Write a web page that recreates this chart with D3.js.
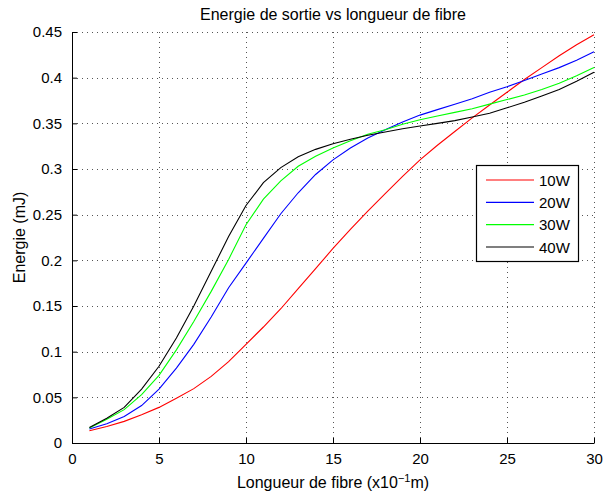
<!DOCTYPE html>
<html>
<head>
<meta charset="utf-8">
<script src="https://cdn.jsdelivr.net/npm/d3@7"></script>
<style>
  body { margin: 0; background: #fff; }
  text { font-family: "Liberation Sans", Arial, sans-serif; }
</style>
</head>
<body>
<svg id="chart" width="603" height="496"></svg>
<script>
const lengths = [1, 2, 3, 4, 5, 6, 7, 8, 9, 10, 11, 12, 13, 14, 15, 16, 17, 18, 19, 20,
                 21, 22, 23, 24, 25, 26, 27, 28, 29, 30]
const e10W = [0.0135, 0.018, 0.0237, 0.031, 0.039, 0.049, 0.0595, 0.073, 0.089, 0.108,
              0.127, 0.147, 0.169, 0.191, 0.213, 0.234, 0.254, 0.273, 0.292, 0.310,
              0.326, 0.341, 0.356, 0.370, 0.384, 0.398, 0.411, 0.424, 0.436, 0.447]
const e20W = [0.0153, 0.021, 0.029, 0.041, 0.059, 0.082, 0.108, 0.138, 0.170, 0.197,
              0.224, 0.251, 0.274, 0.294, 0.310, 0.323, 0.334, 0.343, 0.3515, 0.359,
              0.365, 0.371, 0.377, 0.384, 0.390, 0.397, 0.404, 0.411, 0.419, 0.4285]
const e30W = [0.0164, 0.026, 0.0365, 0.053, 0.074, 0.102, 0.133, 0.166, 0.201, 0.239,
              0.267, 0.287, 0.303, 0.314, 0.323, 0.331, 0.338, 0.343, 0.349, 0.354,
              0.358, 0.362, 0.366, 0.371, 0.376, 0.381, 0.387, 0.394, 0.402, 0.411]
const e40W = [0.017, 0.027, 0.039, 0.059, 0.084, 0.115, 0.150, 0.188, 0.226, 0.260,
              0.285, 0.3015, 0.3135, 0.3215, 0.3277, 0.3325, 0.337, 0.3405, 0.344, 0.347,
              0.350, 0.353, 0.357, 0.361, 0.367, 0.373, 0.380, 0.387, 0.396, 0.406]
const seriesNames = ["10W", "20W", "30W", "40W"]
const seriesColors = ["#ff0000", "#0000ff", "#00ff00", "#000000"]
const xTicks = [0, 5, 10, 15, 20, 25, 30]
const yTicks = [0, 0.05, 0.1, 0.15, 0.2, 0.25, 0.3, 0.35, 0.4, 0.45]
const yTickLabels = ["0", "0.05", "0.1", "0.15", "0.2", "0.25", "0.3", "0.35", "0.4", "0.45"]

const plotLeft = 72, plotRight = 594, plotTop = 32, plotBottom = 443;

const svg = d3.select("#chart");

const x = d3.scaleLinear().domain([0, 30]).range([plotLeft, plotRight]);
const y = d3.scaleLinear().domain([0, 0.45]).range([plotBottom, plotTop]);

// grid
const grid = svg.append("g")
    .attr("stroke", "#555")
    .attr("stroke-width", 1)
    .attr("stroke-dasharray", "1,4")
    .attr("shape-rendering", "crispEdges");
grid.selectAll(".vg")
    .data(xTicks.slice(1))
    .enter()
    .append("line")
    .attr("x1", d => Math.round(x(d)) + 0.5)
    .attr("x2", d => Math.round(x(d)) + 0.5)
    .attr("y1", plotBottom)
    .attr("y2", plotTop);
grid.selectAll(".hg")
    .data(yTicks.slice(1))
    .enter()
    .append("line")
    .attr("y1", d => Math.round(y(d)) + 0.5)
    .attr("y2", d => Math.round(y(d)) + 0.5)
    .attr("x1", plotLeft)
    .attr("x2", plotRight);

// axes, ticks pointing inward
const xAxis = svg.append("g")
    .attr("transform", `translate(0,${plotBottom})`)
    .call(d3.axisBottom(x).tickValues(xTicks).tickSizeInner(-5).tickSizeOuter(0).tickPadding(10));
const yAxis = svg.append("g")
    .attr("transform", `translate(${plotLeft},0)`)
    .call(d3.axisLeft(y).tickValues(yTicks).tickFormat((d, i) => yTickLabels[i])
        .tickSizeInner(-5).tickSizeOuter(0).tickPadding(10));
[xAxis, yAxis].forEach(a => {
    a.selectAll("text").attr("font-size", 15).attr("fill", "#000")
        .style("font-family", "'Liberation Sans', Arial, sans-serif");
    a.selectAll("line, path").attr("stroke", "#000");
});

// curves
const allSeries = [e10W, e20W, e30W, e40W];
const line = d3.line()
    .x((d, i) => x(lengths[i]))
    .y(d => y(d));
svg.append("g")
    .selectAll("path")
    .data(allSeries)
    .enter()
    .append("path")
    .attr("d", d => line(d))
    .attr("fill", "none")
    .attr("stroke", (d, i) => seriesColors[i])
    .attr("stroke-width", 1.1);

// title and labels
svg.append("text")
    .attr("x", (plotLeft + plotRight) / 2)
    .attr("y", 20)
    .attr("text-anchor", "middle")
    .attr("font-size", 16)
    .text("Energie de sortie vs longueur de fibre");

const xl = svg.append("text")
    .attr("x", (plotLeft + plotRight) / 2)
    .attr("y", 488)
    .attr("text-anchor", "middle")
    .attr("font-size", 16);
xl.append("tspan").text("Longueur de fibre (x10");
xl.append("tspan").attr("dy", -6).attr("font-size", 11).text("−1");
xl.append("tspan").attr("dy", 6).text("m)");

svg.append("text")
    .attr("transform", `translate(25,${(plotTop + plotBottom) / 2}) rotate(-90)`)
    .attr("text-anchor", "middle")
    .attr("font-size", 16)
    .text("Energie (mJ)");

// legend
const legend = svg.append("g");
legend.append("rect")
    .attr("x", 476.5).attr("y", 165.5)
    .attr("width", 102).attr("height", 96)
    .attr("fill", "#fff").attr("stroke", "#000").attr("stroke-width", 1.2);
const rowY = d3.scalePoint().domain(seriesNames).range([180, 247]);
seriesNames.forEach((name, i) => {
    legend.append("line")
        .attr("x1", 486).attr("x2", 534)
        .attr("y1", rowY(name)).attr("y2", rowY(name))
        .attr("stroke", seriesColors[i]).attr("stroke-width", 1.1);
    legend.append("text")
        .attr("x", 539).attr("y", rowY(name) + 5.5)
        .attr("font-size", 15)
        .text(name);
});
</script>
</body>
</html>
